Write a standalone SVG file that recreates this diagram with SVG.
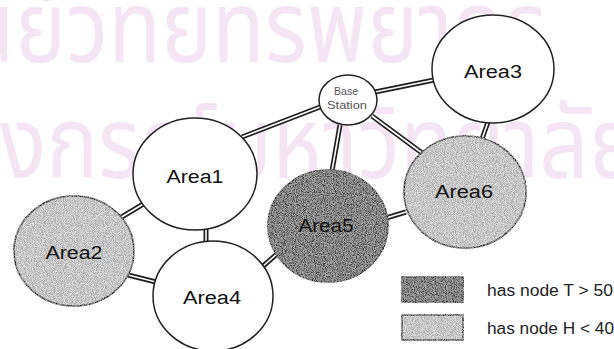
<svg xmlns="http://www.w3.org/2000/svg" width="614" height="349" viewBox="0 0 614 349">
<style>
.wm{font-family:"Noto Sans Thai","Noto Sans","DejaVu Sans",sans-serif;font-size:100px;fill:#f5e4f3}
.lk{stroke:#1e1e1e;stroke-width:5;fill:none}
.lki{stroke:#ffffff;stroke-width:1.6;fill:none}
.nd{stroke:#222;stroke-width:1.5}
.white{fill:#ffffff}
.dark{fill:#575757}
.light{fill:#cdcdcd}
.lbl{font-family:"Liberation Sans",Arial,sans-serif;font-size:18px;fill:#111;text-anchor:middle}
.bs{font-family:"Liberation Sans",Arial,sans-serif;font-size:11px;fill:#555;text-anchor:middle}
.leg{font-family:"Liberation Sans",Arial,sans-serif;font-size:16px;fill:#222}
</style>
<defs>
<filter id="grain" x="-5%" y="-5%" width="110%" height="110%">
<feTurbulence type="fractalNoise" baseFrequency="1.1" numOctaves="1" seed="4" result="noise"/>
<feColorMatrix in="noise" type="matrix" values="3 0 0 0 -1  3 0 0 0 -1  3 0 0 0 -1  0 0 0 0 0.35" result="g"/>
<feComposite in="g" in2="SourceAlpha" operator="in" result="gi"/>
<feMerge><feMergeNode in="SourceGraphic"/><feMergeNode in="gi"/></feMerge>
</filter>
</defs>
<rect width="614" height="349" fill="#ffffff"/>
<g id="watermark">
<text class="wm" x="-38" y="62" textLength="585" lengthAdjust="spacingAndGlyphs">นย์วิทยทรัพยากร</text>
<text class="wm" x="0" y="178" textLength="640" lengthAdjust="spacingAndGlyphs">งกรณ์มหาวิทยาลัย</text>
</g>
<g id="connectors">
<g class="lk">
<line x1="242" y1="137" x2="320" y2="107"/>
<line x1="375" y1="92" x2="434" y2="80"/>
<line x1="340" y1="125" x2="332" y2="171"/>
<line x1="372" y1="116" x2="422" y2="153"/>
<line x1="488" y1="122" x2="482" y2="139"/>
<line x1="386" y1="218" x2="406" y2="212"/>
<line x1="120" y1="218" x2="145" y2="203"/>
<line x1="128" y1="275" x2="156" y2="282"/>
<line x1="206" y1="228" x2="206" y2="243"/>
<line x1="262" y1="267" x2="278" y2="253"/>
</g>
<g class="lki">
<line x1="242" y1="137" x2="320" y2="107"/>
<line x1="375" y1="92" x2="434" y2="80"/>
<line x1="340" y1="125" x2="332" y2="171"/>
<line x1="372" y1="116" x2="422" y2="153"/>
<line x1="488" y1="122" x2="482" y2="139"/>
<line x1="386" y1="218" x2="406" y2="212"/>
<line x1="120" y1="218" x2="145" y2="203"/>
<line x1="128" y1="275" x2="156" y2="282"/>
<line x1="206" y1="228" x2="206" y2="243"/>
<line x1="262" y1="267" x2="278" y2="253"/>
</g>
</g>
<g id="base-station">
<ellipse class="nd white" cx="348" cy="100" rx="29" ry="25"/>
<text class="bs" x="346" y="95" textLength="24" lengthAdjust="spacingAndGlyphs">Base</text>
<text class="bs" x="347" y="109" textLength="40" lengthAdjust="spacingAndGlyphs">Station</text>
</g>
<g id="area1">
<ellipse class="nd white" cx="195" cy="174" rx="62" ry="56"/>
<text class="lbl" x="195" y="183" textLength="57" lengthAdjust="spacingAndGlyphs">Area1</text>
</g>
<g id="area2">
<ellipse class="nd light" filter="url(#grain)" cx="74" cy="251" rx="60" ry="55"/>
<text class="lbl" x="74" y="259" textLength="57" lengthAdjust="spacingAndGlyphs">Area2</text>
</g>
<g id="area3">
<ellipse class="nd white" cx="493" cy="69" rx="61" ry="54"/>
<text class="lbl" x="493" y="78" textLength="58" lengthAdjust="spacingAndGlyphs">Area3</text>
</g>
<g id="area4">
<ellipse class="nd white" cx="213" cy="296" rx="60" ry="55"/>
<text class="lbl" x="212" y="304" textLength="58" lengthAdjust="spacingAndGlyphs">Area4</text>
</g>
<g id="area5">
<ellipse class="nd dark" filter="url(#grain)" cx="328" cy="226" rx="60" ry="56"/>
<text class="lbl" x="326" y="232" textLength="55" lengthAdjust="spacingAndGlyphs">Area5</text>
</g>
<g id="area6">
<ellipse class="nd light" filter="url(#grain)" cx="465" cy="192" rx="61" ry="56"/>
<text class="lbl" x="464" y="198" textLength="58" lengthAdjust="spacingAndGlyphs">Area6</text>
</g>
<g id="legend">
<rect class="nd dark" filter="url(#grain)" x="402" y="277" width="61" height="25"/>
<rect class="nd light" filter="url(#grain)" x="402" y="315" width="61" height="25"/>
<text class="leg" x="487" y="296" textLength="126" lengthAdjust="spacingAndGlyphs">has node T &gt; 50</text>
<text class="leg" x="487" y="334" textLength="127" lengthAdjust="spacingAndGlyphs">has node H &lt; 40</text>
</g>
</svg>
